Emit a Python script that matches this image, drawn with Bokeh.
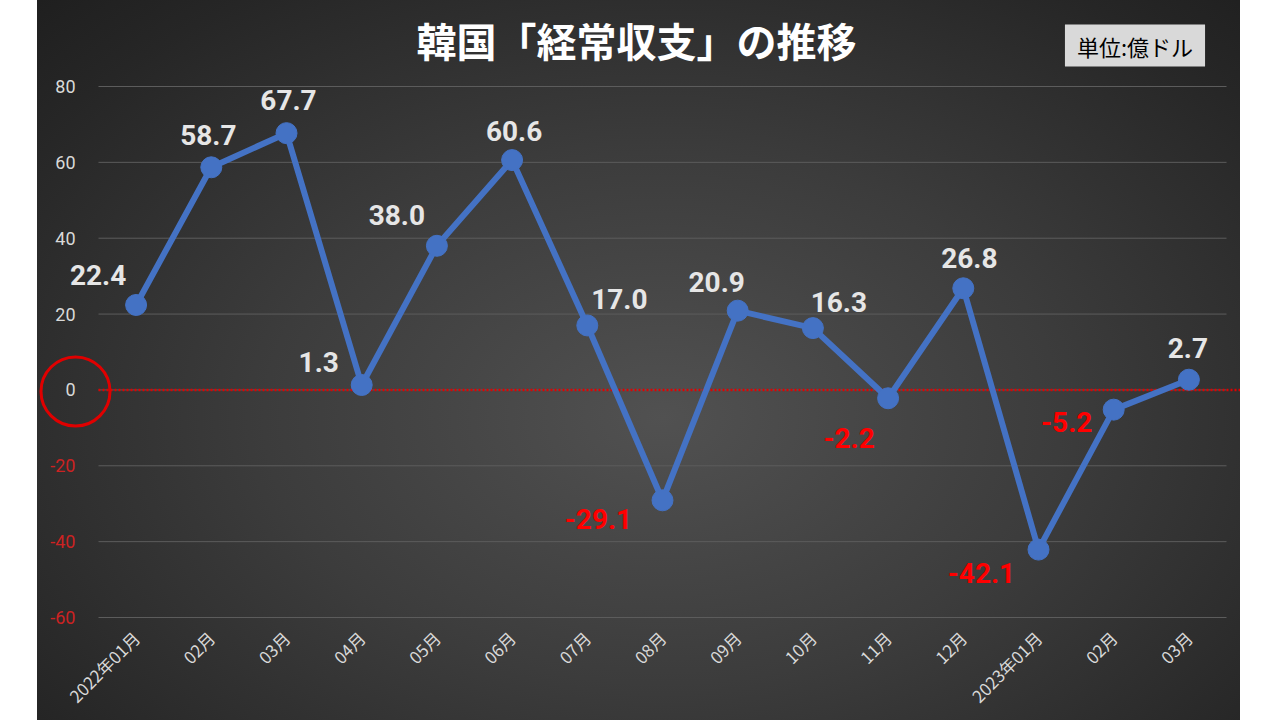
import math
from bokeh.plotting import figure
from bokeh.models import (ColumnDataSource, LabelSet, Label, FixedTicker,
                          Range1d, Spacer)
from bokeh.core.properties import value
from bokeh.layouts import row
from bokeh.embed import file_html
from bokeh.resources import INLINE

# ---- data ----
months = ["2022年01月", "02月", "03月", "04月", "05月", "06月", "07月", "08月",
          "09月", "10月", "11月", "12月", "2023年01月", "02月", "03月"]
values = [22.4, 58.7, 67.7, 1.3, 38.0, 60.6, 17.0, -29.1, 20.9, 16.3,
          -2.2, 26.8, -42.1, -5.2, 2.7]
y_ticks = [-60, -40, -20, 0, 20, 40, 60, 80]
title_text = "韓国「経常収支」の推移"
unit_text = "単位:億ドル"

# ---- label placement (pixel offsets of each value label) ----
label_dx = [-38, -3, 2, -43, -40, 2, 32, -64, -21, 26, -39, 6, -57, -47, -1]
label_dy = [30, 32, 33, 23, 31, 29, 26, -19, 29, 26, -40, 30, -23, -12, 32]

BLUE = "#4472C4"
LIGHT = "#e6e6e6"
RED = "#ff0000"
TICK_RED = "#cc2222"

n = len(values)
x = list(range(n))
y_min, y_max = -60, 80

# plot geometry (pixels): data area spans pad_left..W-pad_right, pad_top..H-data_bottom
W, H = 1203, 720
pad_left, pad_right, pad_top, data_bottom = 61, 14, 86, 103
frame_bottom = 88
px_x = (W - pad_left - pad_right) / n
px_y = (H - pad_top - data_bottom) / (y_max - y_min)

x_lo = -0.5 - pad_left / px_x
x_hi = n - 0.5 + pad_right / px_x
y_hi = y_max + pad_top / px_y
y_lo = y_min - (data_bottom - frame_bottom) / px_y

src = ColumnDataSource(dict(
    x=x, y=values,
    txt=[f"{v:.1f}" for v in values],
    col=[RED if v < 0 else LIGHT for v in values],
    dx=label_dx, dy=label_dy,
))

p = figure(width=W, height=H, output_backend="svg", toolbar_location=None,
           x_range=Range1d(x_lo, x_hi), y_range=Range1d(y_lo, y_hi),
           min_border_left=0, min_border_right=0, min_border_top=0,
           min_border_bottom=frame_bottom)
p.background_fill_color = None
p.border_fill_color = None
p.outline_line_color = None
p.styles = {"background": "radial-gradient(ellipse at 52% 58%, #515151 0%, #3c3c3c 45%, #262626 85%, #1f1f1f 100%)"}
p.grid.visible = False

# axes
p.yaxis.visible = False
ax = p.xaxis[0]
ax.ticker = FixedTicker(ticks=x)
ax.major_label_overrides = {i: m for i, m in zip(x, months)}
ax.major_label_orientation = math.pi / 4
ax.axis_line_color = None
ax.major_tick_line_color = None
ax.major_tick_out = 0
ax.minor_tick_line_color = None
ax.major_label_text_color = "#d9d9d9"
ax.major_label_text_font = "Noto Sans CJK JP"
ax.major_label_text_font_size = "17px"
ax.major_label_standoff = 2

# horizontal grid lines (limited to the category area)
p.segment(x0=[-0.5] * len(y_ticks), x1=[n - 0.5] * len(y_ticks),
          y0=y_ticks, y1=y_ticks, line_color="#5c5c5c", line_width=1)
# red dotted zero line
p.segment(x0=[-0.5], x1=[x_hi], y0=[0], y1=[0], line_color="#e00000",
          line_width=2.5, line_dash="2 2")

# y tick labels (coloured by sign)
tick_x = -0.5 - 23 / px_x
tick_src = ColumnDataSource(dict(
    x=[tick_x] * len(y_ticks), y=y_ticks, txt=[str(t) for t in y_ticks],
    col=[TICK_RED if t < 0 else "#d9d9d9" for t in y_ticks]))
p.add_layout(LabelSet(x="x", y="y", text="txt", source=tick_src,
                      text_color="col", text_align="right", text_baseline="middle",
                      text_font=value("Roboto"), text_font_size=value("18px")))

# red circle around 0
p.scatter(x=[tick_x], y=[-0.4], size=69, marker="circle", fill_color=None,
          line_color="#e00000", line_width=3)

# series
p.line("x", "y", source=src, line_color=BLUE, line_width=6)
p.scatter("x", "y", source=src, size=21, fill_color=BLUE, line_color=BLUE)

p.add_layout(LabelSet(x="x", y="y", text="txt", source=src, text_color="col",
                      x_offset="dx", y_offset="dy", text_align="center",
                      text_baseline="middle", text_font=value("Roboto"),
                      text_font_style="bold", text_font_size=value("28px")))

# title
p.add_layout(Label(x=-0.5 + (636 - 98) / px_x, y=y_max + 47 / px_y,
                   text=title_text, text_color="#ffffff",
                   text_font="Noto Sans CJK JP", text_font_style="bold",
                   text_font_size="40px", text_align="center",
                   text_baseline="middle"))

# unit box
p.add_layout(Label(x=-0.5 + (1134.5 - 98) / px_x, y=y_max + 41 / px_y,
                   text=unit_text, text_color="#000000",
                   text_font="Noto Sans CJK JP", text_font_size="22px",
                   text_align="center", text_baseline="middle",
                   background_fill_color="#d9d9d9",
                   padding=dict(left=12, right=12, top=5, bottom=5)))

layout = row(Spacer(width=37, height=H), p)
open("out.html", "w").write(file_html(layout, INLINE))
